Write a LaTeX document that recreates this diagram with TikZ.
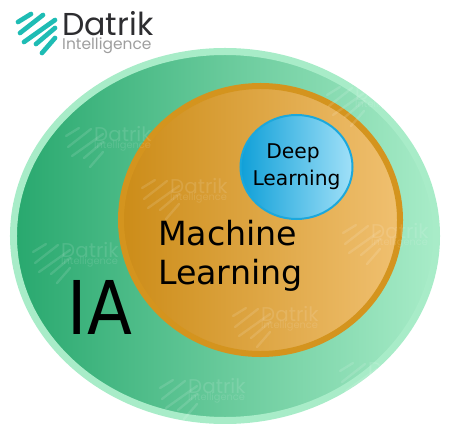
\documentclass[tikz,border=0pt]{standalone}
\usepackage{fontspec}
\setmainfont{DejaVu Sans}
\newfontfamily\logofont{Poppins}
\definecolor{DatrikTeal}{RGB}{30, 188, 180}
\definecolor{DatrikInk}{RGB}{45, 45, 48}
\definecolor{IARim}{RGB}{168, 236, 200}
\definecolor{IALeft}{RGB}{40, 168, 110}
\definecolor{MLRim}{RGB}{212, 148, 30}
\definecolor{MLLeft}{RGB}{204, 140, 24}
\definecolor{MLRight}{RGB}{240, 192, 112}
\definecolor{DLRim}{RGB}{28, 168, 220}
\definecolor{DLLeft}{RGB}{16, 160, 216}
\definecolor{DLRight}{RGB}{160, 224, 248}
\usetikzlibrary{shapes.geometric, positioning}

\begin{document}
\begin{tikzpicture}[
        x=0.03cm, y=-0.03cm,
        blob/.style={ellipse, draw, inner sep=0pt},
        stripes/.pic={
            \foreach \a/\b/\c/\d in {0/8/13/0, 2/19/25/1, 6/28/37/6, 18/30/37/14, 24/39/37/24}
                \draw (\a,\b) -- (\c,\d);
        },
        wmtext/.style={text=white, text opacity=0.12, anchor=base west, inner sep=0pt}
    ]
        \useasboundingbox (0,0) rectangle (451,424);

        % nested sets
        \node[blob, line width=0.21cm, draw=IARim, left color=IALeft, right color=IARim,
              minimum width=12.69cm, minimum height=11.07cm] (ia) at (225,236) {};
        \node[blob, line width=0.18cm, draw=MLRim, left color=MLLeft, right color=MLRight,
              minimum width=8.37cm, minimum height=8.04cm] (ml) at (260.5,220) {};
        \node[blob, line width=0.06cm, draw=DLRim, left color=DLLeft, right color=DLRight,
              minimum width=3.36cm, minimum height=3.12cm] (dl) at (296.5,167) {};

        % labels
        \node[font=\fontsize{17.3}{23}\selectfont, align=center] (dltext) at (dl) {Deep\kern6pt\\Learning};
        \node[font=\fontsize{28.4}{33}\selectfont, align=left, anchor=west] (mltext) at (154,256) {Machine\\Learning};
        \node[font=\fontsize{56}{60}\selectfont] (iatext) at (100,307) {\scalebox{1}[1.13]{IA}};

        % logo
        \begin{scope}[shift={(18,14)}, DatrikTeal, line width=0.14cm, line cap=round]
            \pic {stripes};
        \end{scope}
        \node[font=\logofont\fontsize{27}{27}\selectfont, text=DatrikInk, anchor=base west, inner sep=0pt] (brand) at (62,36) {Datrik};
        \node[font=\logofont\fontsize{13.2}{14}\selectfont, text=black!38, anchor=base west, inner sep=0pt] (sub) at (62,50) {Intelligence};

        % watermarks
        \foreach \x/\y [count=\i] in {66/128, 142/180, 33/244, 343/225, 233/308, 160/380, 327/87, 340/363} {
            \begin{scope}[shift={(\x,\y)}, scale=0.6, white, opacity=0.12, line width=0.07cm, line cap=round]
                \pic {stripes};
            \end{scope}
            \node[wmtext, font=\logofont\fontsize{17}{17}\selectfont] (wm\i) at (\x+28,\y+13) {Datrik};
            \node[wmtext, font=\logofont\fontsize{8.4}{9}\selectfont] (wms\i) at (\x+28,\y+20) {Intelligence};
        }
    \end{tikzpicture}
\end{document}
